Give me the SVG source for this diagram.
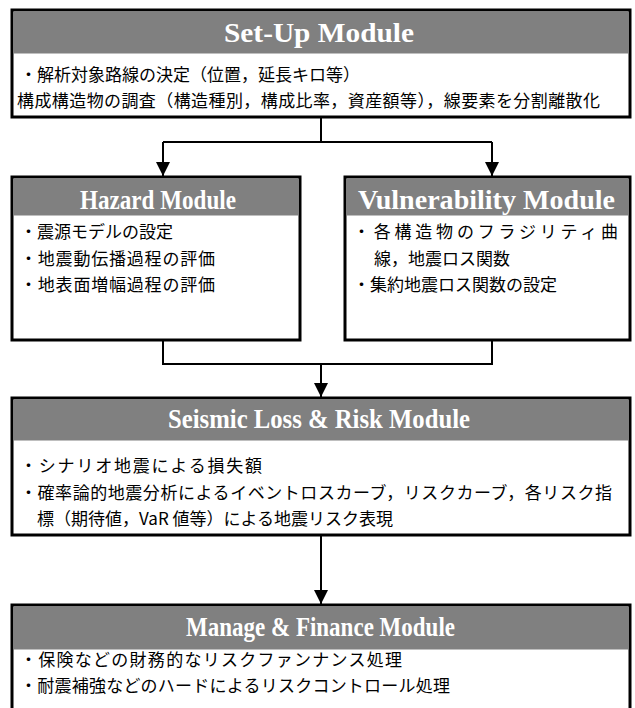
<svg xmlns="http://www.w3.org/2000/svg" width="635" height="708" viewBox="0 0 635 708">
<style>
.box{fill:#ffffff;stroke:#000000;stroke-width:3}
.hdr{fill:#808080}
.ttl{font-family:"Liberation Serif","Times New Roman",serif;font-weight:bold;font-size:27px;fill:#ffffff}
.jp{font-family:"Noto Sans CJK JP","Noto Sans CJK SC",sans-serif;font-size:17px;fill:#000000}
.con{fill:none;stroke:#000000;stroke-width:2}
</style>
<defs>
<marker id="arr" viewBox="0 0 10 10" refX="10" refY="5" markerWidth="14" markerHeight="14" markerUnits="userSpaceOnUse" orient="auto">
<path d="M0,0 L10,5 L0,10 z" fill="#000000"/>
</marker>
</defs>
<g id="connectors">
<polyline class="con" points="321,117 321,142"/>
<polyline class="con" points="163,142 492,142"/>
<line class="con" x1="163" y1="142" x2="163" y2="176" marker-end="url(#arr)"/>
<line class="con" x1="492" y1="142" x2="492" y2="176" marker-end="url(#arr)"/>
<polyline class="con" points="163,340 163,364 492,364 492,340"/>
<line class="con" x1="321" y1="364" x2="321" y2="397" marker-end="url(#arr)"/>
<line class="con" x1="321" y1="535" x2="321" y2="604" marker-end="url(#arr)"/>
</g>
<g id="setup">
<rect class="box" x="12" y="10" width="618" height="107"/>
<rect class="hdr" x="13.5" y="11.5" width="615" height="42"/>
<text class="ttl" x="224" y="42" textLength="190" lengthAdjust="spacingAndGlyphs">Set-Up Module</text>
<text class="jp" x="20" y="81">・解析対象路線の決定（位置，延長キロ等）</text>
<text class="jp" x="17" y="107" textLength="583">構成構造物の調査（構造種別，構成比率，資産額等），線要素を分割離散化</text>
</g>
<g id="hazard">
<rect class="box" x="12" y="177" width="288" height="163"/>
<rect class="hdr" x="13.5" y="178.5" width="285" height="37"/>
<text class="ttl" x="80" y="209" textLength="156" lengthAdjust="spacingAndGlyphs">Hazard Module</text>
<text class="jp" x="20" y="238">・震源モデルの設定</text>
<text class="jp" x="20" y="265" textLength="195">・地震動伝播過程の評価</text>
<text class="jp" x="20" y="291" textLength="195">・地表面増幅過程の評価</text>
</g>
<g id="vulnerability">
<rect class="box" x="345" y="177" width="285" height="163"/>
<rect class="hdr" x="346.5" y="178.5" width="282" height="37"/>
<text class="ttl" x="358" y="209" textLength="257" lengthAdjust="spacingAndGlyphs">Vulnerability Module</text>
<text class="jp" x="353" y="238" textLength="265">・各構造物のフラジリティ曲</text>
<text class="jp" x="374" y="265">線，地震ロス関数</text>
<text class="jp" x="353" y="291">・集約地震ロス関数の設定</text>
</g>
<g id="seismic">
<rect class="box" x="12" y="398" width="618" height="137"/>
<rect class="hdr" x="13.5" y="399.5" width="615" height="41"/>
<text class="ttl" x="168" y="428" textLength="302" lengthAdjust="spacingAndGlyphs">Seismic Loss &amp; Risk Module</text>
<text class="jp" x="20" y="472" textLength="242">・シナリオ地震による損失額</text>
<text class="jp" x="20" y="499" textLength="592">・確率論的地震分析によるイベントロスカーブ，リスクカーブ，各リスク指</text>
<text class="jp" x="37" y="525">標（期待値，VaR 値等）による地震リスク表現</text>
</g>
<g id="manage">
<rect class="box" x="12" y="605" width="618" height="110"/>
<rect class="hdr" x="13.5" y="606.5" width="615" height="43"/>
<text class="ttl" x="186" y="636" textLength="269" lengthAdjust="spacingAndGlyphs">Manage &amp; Finance Module</text>
<text class="jp" x="20" y="666" textLength="382">・保険などの財務的なリスクファンナンス処理</text>
<text class="jp" x="20" y="692" textLength="430">・耐震補強などのハードによるリスクコントロール処理</text>
</g>
</svg>
